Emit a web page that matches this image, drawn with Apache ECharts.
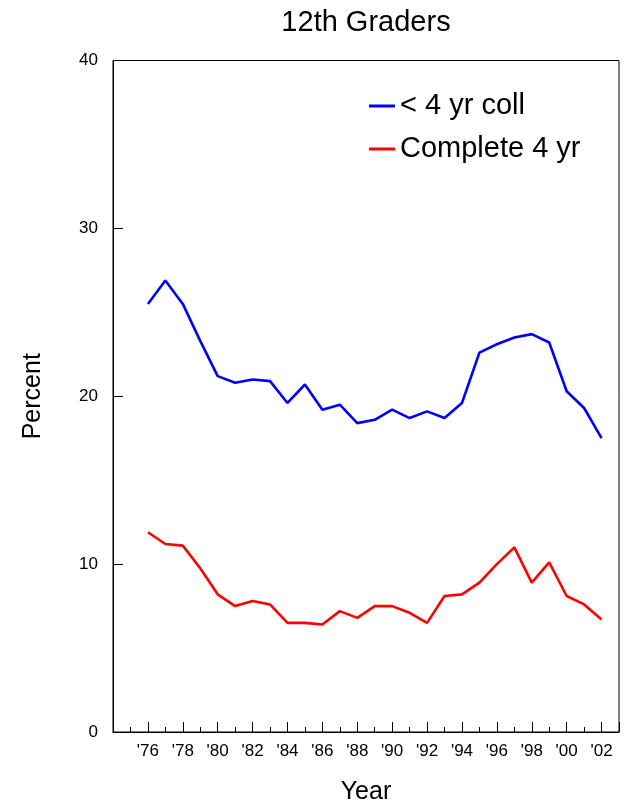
<!DOCTYPE html>
<html>
<head>
<meta charset="utf-8">
<script src="https://cdn.jsdelivr.net/npm/echarts@6/dist/echarts.min.js"></script>
<style>
  html, body { margin: 0; padding: 0; background: #fff; }
  #chart { width: 633px; height: 804px; }
</style>
</head>
<body>
<div id="chart"></div>
<script>
// Survey years, 1976 through 2002
const years = [1976, 1977, 1978, 1979, 1980, 1981, 1982, 1983, 1984, 1985, 1986, 1987, 1988, 1989,
               1990, 1991, 1992, 1993, 1994, 1995, 1996, 1997, 1998, 1999, 2000, 2001, 2002];

// Percent of 12th graders by expected educational attainment
const lessThan4yr = [25.5, 26.9, 25.5, 23.3, 21.2, 20.8, 21.0, 20.9, 19.6, 20.7, 19.2, 19.5, 18.4, 18.6,
                     19.2, 18.7, 19.1, 18.7, 19.6, 22.6, 23.1, 23.5, 23.7, 23.2, 20.3, 19.3, 17.5];
const complete4yr = [11.9, 11.2, 11.1, 9.75, 8.2, 7.5, 7.8, 7.6, 6.5, 6.5, 6.4, 7.2, 6.8, 7.5,
                     7.5, 7.1, 6.5, 8.1, 8.2, 8.9, 10.0, 11.0, 8.9, 10.1, 8.1, 7.6, 6.7];

const seriesNames = ['< 4 yr coll', 'Complete 4 yr'];
const yTicks = [0, 10, 20, 30, 40];

const font = 'Liberation Sans, Arial, sans-serif';
const pairs = vals => years.map((y, i) => [y, vals[i]]);

const chart = echarts.init(document.getElementById('chart'), null, { renderer: 'canvas' });

chart.setOption({
  animation: false,
  backgroundColor: '#ffffff',
  graphic: [{
    type: 'text',
    x: 366, y: 23,
    style: {
      text: '12th Graders',
      textAlign: 'center', textVerticalAlign: 'middle',
      font: '29px ' + font, fill: '#000'
    }
  }],
  legend: {
    orient: 'vertical',
    left: 364, top: 85,
    itemWidth: 26, itemHeight: 3,
    itemGap: 11,
    icon: 'rect',
    textStyle: { fontFamily: font, fontSize: 29, color: '#000', lineHeight: 32 },
    data: seriesNames
  },
  grid: {
    left: 113, right: 14, top: 60.5, bottom: 72,
    containLabel: false,
    outerBoundsMode: 'none',
    show: true, borderColor: '#000', borderWidth: 1, backgroundColor: 'transparent'
  },
  xAxis: [{
    // even-year major ticks with labels
    type: 'value',
    min: 1974, max: 2003, interval: 2,
    name: 'Year', nameLocation: 'middle', nameGap: 48,
    nameTextStyle: { fontFamily: font, fontSize: 25, color: '#000' },
    axisLine: { show: true, lineStyle: { color: '#000', width: 1 } },
    axisTick: { show: true, inside: true, length: 10, lineStyle: { color: '#000' } },
    axisLabel: {
      fontFamily: font, fontSize: 17, color: '#000', margin: 11,
      formatter: v => (v >= 1976 && v <= 2002) ? "'" + String(v).slice(2) : ''
    },
    splitLine: { show: false }
  }, {
    // yearly minor ticks (even years sit under the longer major ticks)
    type: 'value',
    position: 'bottom',
    min: 1974, max: 2003, interval: 1,
    axisLine: { show: false },
    axisTick: { show: true, inside: true, length: 5, lineStyle: { color: '#000' } },
    axisLabel: { show: false },
    splitLine: { show: false }
  }],
  yAxis: {
    type: 'value',
    min: yTicks[0], max: yTicks[yTicks.length - 1], interval: 10,
    name: 'Percent', nameLocation: 'middle', nameGap: 67,
    nameTextStyle: { fontFamily: font, fontSize: 25, color: '#000' },
    axisLine: { show: true, lineStyle: { color: '#000', width: 1 } },
    axisTick: { show: true, inside: true, length: 10, lineStyle: { color: '#000' } },
    axisLabel: { fontFamily: font, fontSize: 17, color: '#000', margin: 15 },
    splitLine: { show: false }
  },
  series: [{
    name: seriesNames[0],
    type: 'line',
    xAxisIndex: 0,
    data: pairs(lessThan4yr),
    showSymbol: false,
    lineStyle: { color: '#0000ff', width: 2.6 },
    itemStyle: { color: '#0000ff' }
  }, {
    name: seriesNames[1],
    type: 'line',
    xAxisIndex: 0,
    data: pairs(complete4yr),
    showSymbol: false,
    lineStyle: { color: '#ff0000', width: 2.6 },
    itemStyle: { color: '#ff0000' }
  }]
});
</script>
</body>
</html>
